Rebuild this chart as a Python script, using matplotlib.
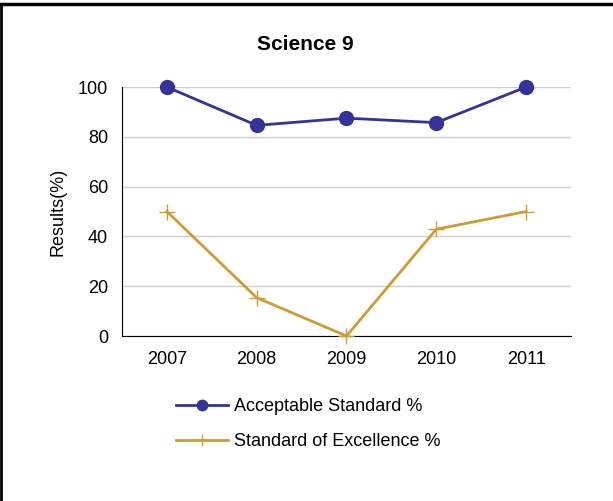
import matplotlib.pyplot as plt
from matplotlib.lines import Line2D

plt.rcParams['font.family'] = ['Liberation Sans', 'DejaVu Sans']

years = ['2007', '2008', '2009', '2010', '2011']
acceptable = [100, 84.6, 87.5, 85.7, 100]
excellence = [50, 15.4, 0, 42.9, 50]

blue = '#333399'
gold = '#D19B33'

fig = plt.figure(figsize=(6.13, 5.01), dpi=100)
ax = fig.add_axes([0.199, 0.3293, 0.7325, 0.497])

x = range(len(years))
ax.plot(x, acceptable, color=blue, lw=2, marker='o', markersize=10,
        label='Acceptable Standard %', zorder=3, clip_on=False)
ax.plot(x, excellence, color=gold, lw=2, marker='+', markersize=12,
        markeredgewidth=1, label='Standard of Excellence %', zorder=3,
        clip_on=False)

ax.set_xlim(-0.5, 4.5)
ax.set_ylim(0, 100)
ax.set_yticks([0, 20, 40, 60, 80, 100])
ax.set_xticks(list(x))
ax.set_xticklabels(years)
ax.tick_params(axis='y', length=0, labelsize=13, pad=10)
ax.tick_params(axis='x', length=0, labelsize=13, pad=11)
ax.grid(axis='y', color='#d0d0d0', lw=1)
ax.set_axisbelow(True)
for s in ['top', 'right']:
    ax.spines[s].set_visible(False)
ax.spines['left'].set_color('black')
ax.spines['bottom'].set_color('black')
ax.set_ylabel('Results(%)', fontsize=13, labelpad=8)

fig.text(0.498, 0.912, 'Science 9', ha='center', va='center',
         fontsize=15, fontweight='bold')

fig.legend(loc='upper left', bbox_to_anchor=(0.275, 0.220), frameon=False,
           fontsize=13, handlelength=2.9, handletextpad=0.3, labelspacing=1.0,
           borderaxespad=0, markerscale=0.75)

# outer border (top and left only)
fig.add_artist(Line2D([0, 1], [0.992, 0.992], transform=fig.transFigure,
                      color='black', lw=2.5))
fig.add_artist(Line2D([0.001, 0.001], [0, 0.992], transform=fig.transFigure,
                      color='black', lw=2))

fig.savefig('out.png', dpi=100)
